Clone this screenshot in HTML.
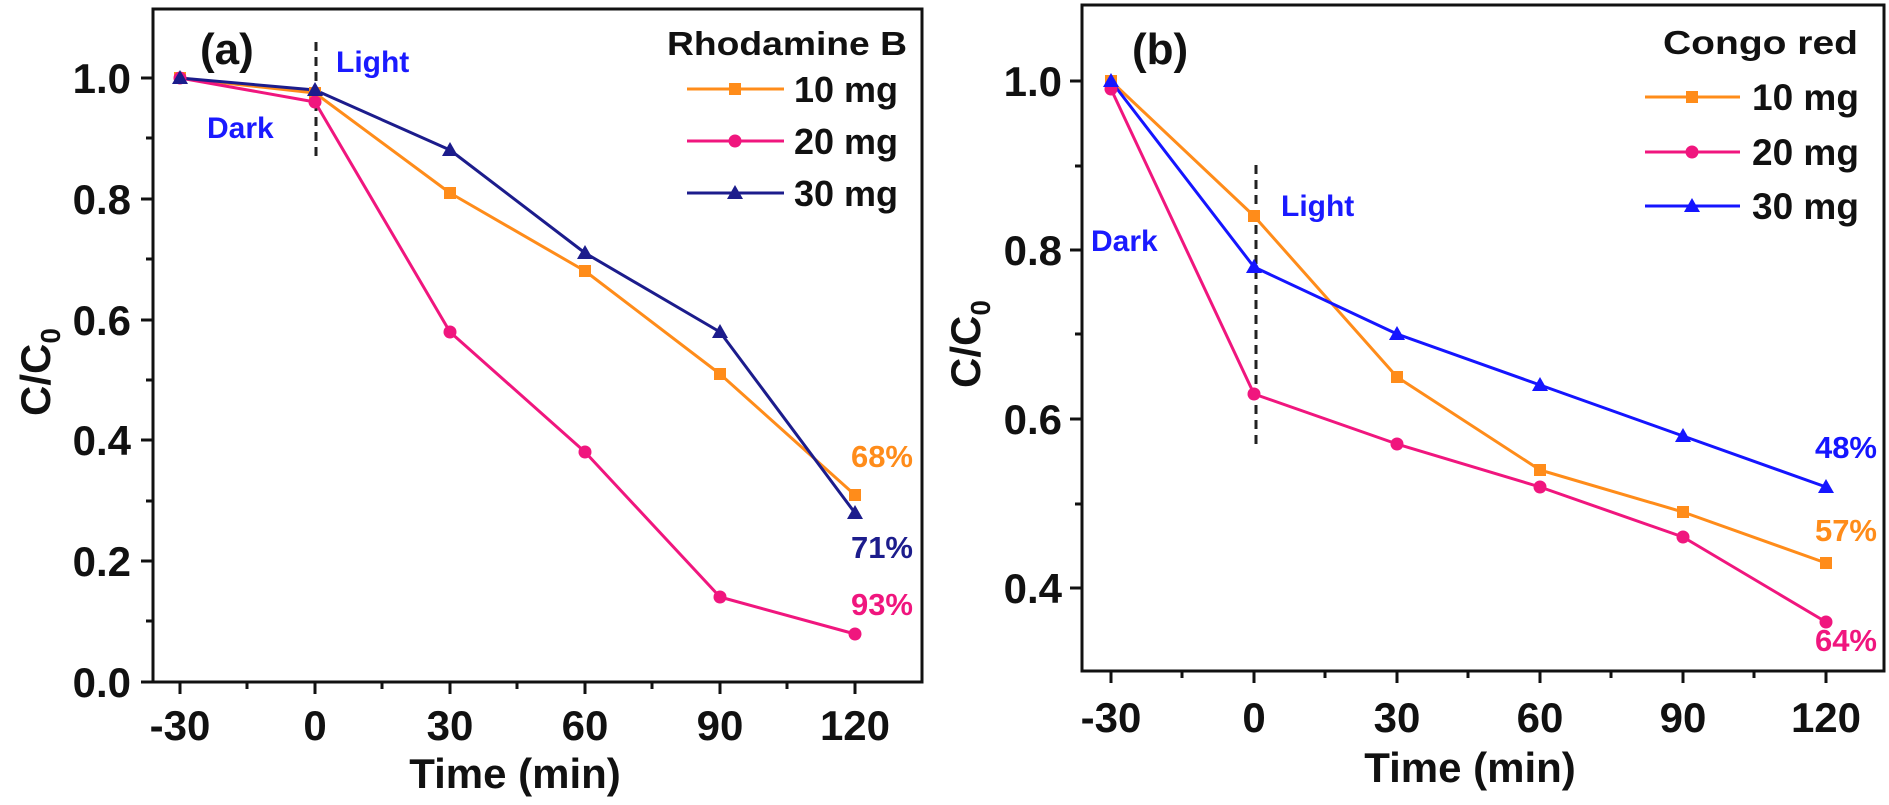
<!DOCTYPE html>
<html><head><meta charset="utf-8"><style>
html,body{margin:0;padding:0;background:#fff}
svg{display:block}
text{font-family:"Liberation Sans",Arial,sans-serif;font-weight:bold}
</style></head><body>
<svg width="1889" height="805" viewBox="0 0 1889 805" xmlns="http://www.w3.org/2000/svg">
<defs>
<g id="sq"><rect x="-6" y="-6" width="12" height="12"/></g>
<g id="ci"><circle r="6.5"/></g>
<g id="tr"><polygon points="0,-8 8,6 -8,6"/></g>
</defs>
<!-- Panel A -->
<rect x="153" y="9" width="769" height="673" fill="none" stroke="#111" stroke-width="3"/>
<g stroke="#111" stroke-width="3">
<line x1="153" y1="682" x2="141" y2="682"/><line x1="153" y1="561" x2="141" y2="561"/><line x1="153" y1="440" x2="141" y2="440"/><line x1="153" y1="320" x2="141" y2="320"/><line x1="153" y1="199" x2="141" y2="199"/><line x1="153" y1="78" x2="141" y2="78"/>
<line x1="153" y1="621" x2="146" y2="621"/><line x1="153" y1="501" x2="146" y2="501"/><line x1="153" y1="380" x2="146" y2="380"/><line x1="153" y1="259" x2="146" y2="259"/><line x1="153" y1="138" x2="146" y2="138"/>
<line x1="180" y1="682" x2="180" y2="694"/><line x1="315" y1="682" x2="315" y2="694"/><line x1="450" y1="682" x2="450" y2="694"/><line x1="585" y1="682" x2="585" y2="694"/><line x1="720" y1="682" x2="720" y2="694"/><line x1="855" y1="682" x2="855" y2="694"/>
<line x1="247" y1="682" x2="247" y2="689"/><line x1="382" y1="682" x2="382" y2="689"/><line x1="517" y1="682" x2="517" y2="689"/><line x1="652" y1="682" x2="652" y2="689"/><line x1="787" y1="682" x2="787" y2="689"/>
</g>
<g font-size="42" fill="#111" text-anchor="end">
<text x="131" y="697">0.0</text><text x="131" y="576">0.2</text><text x="131" y="455">0.4</text><text x="131" y="335">0.6</text><text x="131" y="214">0.8</text><text x="131" y="93">1.0</text>
</g>
<g font-size="42" fill="#111" text-anchor="middle">
<text x="180" y="740">-30</text><text x="315" y="740">0</text><text x="450" y="740">30</text><text x="585" y="740">60</text><text x="720" y="740">90</text><text x="855" y="740">120</text>
<text x="515" y="788">Time (min)</text>
</g>
<text transform="translate(50,372) rotate(-90)" font-size="42" fill="#111" text-anchor="middle">C/C<tspan font-size="28" dy="10">0</tspan></text>
<line x1="316" y1="42" x2="316" y2="160" stroke="#222" stroke-width="3" stroke-dasharray="9,6"/>
<text x="200" y="64" font-size="44" fill="#111">(a)</text>
<text x="336" y="72" font-size="30" fill="#1a1aff">Light</text>
<text x="207" y="138" font-size="30" fill="#1a1aff">Dark</text>
<g stroke-width="3" fill="none" stroke-linejoin="round">
<polyline stroke="#ff8c1a" points="180,78 315,93 450,193 585,271 720,374 855,495"/>
<polyline stroke="#f0167e" points="180,78 315,102 450,332 585,452 720,597 855,634"/>
<polyline stroke="#1c1c8c" points="180,78 315,90 450,150 585,253 720,332 855,513"/>
</g>
<g fill="#ff8c1a"><use href="#sq" x="180" y="78"/><use href="#sq" x="315" y="93"/><use href="#sq" x="450" y="193"/><use href="#sq" x="585" y="271"/><use href="#sq" x="720" y="374"/><use href="#sq" x="855" y="495"/></g>
<g fill="#f0167e"><use href="#ci" x="180" y="78"/><use href="#ci" x="315" y="102"/><use href="#ci" x="450" y="332"/><use href="#ci" x="585" y="452"/><use href="#ci" x="720" y="597"/><use href="#ci" x="855" y="634"/></g>
<g fill="#1c1c8c"><use href="#tr" x="180" y="78"/><use href="#tr" x="315" y="90"/><use href="#tr" x="450" y="150"/><use href="#tr" x="585" y="253"/><use href="#tr" x="720" y="332"/><use href="#tr" x="855" y="513"/></g>
<g font-size="31" text-anchor="end">
<text x="913" y="467" fill="#ff8c1a">68%</text><text x="913" y="558" fill="#1c1c8c">71%</text><text x="913" y="615" fill="#f0167e">93%</text>
</g>
<text x="667" y="55" font-size="33" fill="#111" textLength="240" lengthAdjust="spacingAndGlyphs">Rhodamine B</text>
<g stroke-width="3"><line x1="687" y1="89" x2="784" y2="89" stroke="#ff8c1a"/><line x1="687" y1="141" x2="784" y2="141" stroke="#f0167e"/><line x1="687" y1="193" x2="784" y2="193" stroke="#1c1c8c"/></g>
<use href="#sq" x="735" y="89" fill="#ff8c1a"/><use href="#ci" x="735" y="141" fill="#f0167e"/><use href="#tr" x="735" y="193" fill="#1c1c8c"/>
<g font-size="36" fill="#111"><text x="794" y="102">10 mg</text><text x="794" y="154">20 mg</text><text x="794" y="206">30 mg</text></g>

<!-- Panel B -->
<rect x="1082" y="5" width="802" height="666" fill="none" stroke="#111" stroke-width="3"/>
<g stroke="#111" stroke-width="3">
<line x1="1082" y1="81" x2="1070" y2="81"/><line x1="1082" y1="250" x2="1070" y2="250"/><line x1="1082" y1="419" x2="1070" y2="419"/><line x1="1082" y1="588" x2="1070" y2="588"/>
<line x1="1082" y1="166" x2="1075" y2="166"/><line x1="1082" y1="334" x2="1075" y2="334"/><line x1="1082" y1="504" x2="1075" y2="504"/>
<line x1="1111" y1="671" x2="1111" y2="683"/><line x1="1254" y1="671" x2="1254" y2="683"/><line x1="1397" y1="671" x2="1397" y2="683"/><line x1="1540" y1="671" x2="1540" y2="683"/><line x1="1683" y1="671" x2="1683" y2="683"/><line x1="1826" y1="671" x2="1826" y2="683"/>
<line x1="1182" y1="671" x2="1182" y2="678"/><line x1="1325" y1="671" x2="1325" y2="678"/><line x1="1468" y1="671" x2="1468" y2="678"/><line x1="1611" y1="671" x2="1611" y2="678"/><line x1="1754" y1="671" x2="1754" y2="678"/>
</g>
<g font-size="42" fill="#111" text-anchor="end">
<text x="1062" y="96">1.0</text><text x="1062" y="265">0.8</text><text x="1062" y="434">0.6</text><text x="1062" y="603">0.4</text>
</g>
<g font-size="42" fill="#111" text-anchor="middle">
<text x="1111" y="732">-30</text><text x="1254" y="732">0</text><text x="1397" y="732">30</text><text x="1540" y="732">60</text><text x="1683" y="732">90</text><text x="1826" y="732">120</text>
<text x="1470" y="782">Time (min)</text>
</g>
<text transform="translate(980,344) rotate(-90)" font-size="42" fill="#111" text-anchor="middle">C/C<tspan font-size="28" dy="10">0</tspan></text>
<line x1="1256" y1="165" x2="1256" y2="445" stroke="#222" stroke-width="3" stroke-dasharray="9,6"/>
<text x="1132" y="64" font-size="44" fill="#111">(b)</text>
<text x="1281" y="216" font-size="30" fill="#1a1aff">Light</text>
<text x="1091" y="251" font-size="30" fill="#1a1aff">Dark</text>
<g stroke-width="3" fill="none" stroke-linejoin="round">
<polyline stroke="#ff8c1a" points="1111,81 1254,216 1397,377 1540,470 1683,512 1826,563"/>
<polyline stroke="#f0167e" points="1111,89 1254,394 1397,444 1540,487 1683,537 1826,622"/>
<polyline stroke="#1515ff" points="1111,81 1254,267 1397,334 1540,385 1683,436 1826,487"/>
</g>
<g fill="#ff8c1a"><use href="#sq" x="1111" y="81"/><use href="#sq" x="1254" y="216"/><use href="#sq" x="1397" y="377"/><use href="#sq" x="1540" y="470"/><use href="#sq" x="1683" y="512"/><use href="#sq" x="1826" y="563"/></g>
<g fill="#f0167e"><use href="#ci" x="1111" y="89"/><use href="#ci" x="1254" y="394"/><use href="#ci" x="1397" y="444"/><use href="#ci" x="1540" y="487"/><use href="#ci" x="1683" y="537"/><use href="#ci" x="1826" y="622"/></g>
<g fill="#1515ff"><use href="#tr" x="1111" y="81"/><use href="#tr" x="1254" y="267"/><use href="#tr" x="1397" y="334"/><use href="#tr" x="1540" y="385"/><use href="#tr" x="1683" y="436"/><use href="#tr" x="1826" y="487"/></g>
<g font-size="31" text-anchor="end">
<text x="1877" y="458" fill="#1515ff">48%</text><text x="1877" y="541" fill="#ff8c1a">57%</text><text x="1877" y="651" fill="#f0167e">64%</text>
</g>
<text x="1663" y="54" font-size="33" fill="#111" textLength="195" lengthAdjust="spacingAndGlyphs">Congo red</text>
<g stroke-width="3"><line x1="1645" y1="97" x2="1740" y2="97" stroke="#ff8c1a"/><line x1="1645" y1="152" x2="1740" y2="152" stroke="#f0167e"/><line x1="1645" y1="206" x2="1740" y2="206" stroke="#1515ff"/></g>
<use href="#sq" x="1692" y="97" fill="#ff8c1a"/><use href="#ci" x="1692" y="152" fill="#f0167e"/><use href="#tr" x="1692" y="206" fill="#1515ff"/>
<g font-size="37" fill="#111"><text x="1752" y="110">10 mg</text><text x="1752" y="165">20 mg</text><text x="1752" y="219">30 mg</text></g>
</svg>
</body></html>
